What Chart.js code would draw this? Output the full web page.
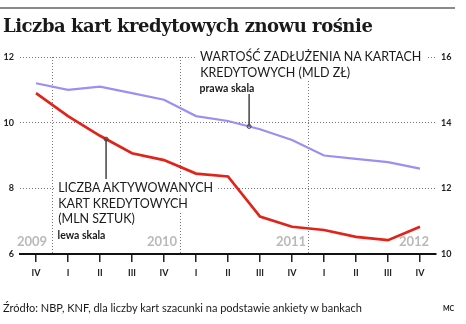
<!DOCTYPE html>
<html>
<head>
<meta charset="utf-8">
<script src="https://cdn.jsdelivr.net/npm/chart.js@4/dist/chart.umd.min.js"></script>
<style>
    body { margin: 0; background: #fff; }
    #wrap { position: relative; width: 466px; height: 324px; overflow: hidden; font-family: Lato, "Open Sans", sans-serif; color: #1a1a1a; }
    #chart { position: absolute; left: 0; top: 0; }
    .topline { position: absolute; left: 0; top: 7px; width: 455px; height: 2px; background: #8a8a8a; }
    .title { position: absolute; left: 3px; top: 15px; font-family: "DejaVu Serif", serif; font-weight: bold; font-size: 18px; letter-spacing: -0.45px; }
    .note { position: absolute; font-size: 12.5px; line-height: 15.5px; }
    .note span { background: #fff; padding-right: 2px; }
    .note .small { font-size: 10.5px; font-weight: bold; line-height: 13px; }
    .year { position: absolute; top: 233px; font-size: 13px; font-weight: bold; color: #b9b9b9; }
    .source { position: absolute; left: 3px; top: 301px; font-size: 11px; }
    .mc { position: absolute; left: 443px; top: 304px; font-size: 7px; font-weight: bold; }
</style>
</head>
<body>
<div id="wrap">
    <canvas id="chart" width="466" height="324"></canvas>
    <div class="topline"></div>
    <div class="title">Liczba kart kredytowych znowu rośnie</div>
    <div class="note" style="left:197px; top:49px;">
        <span>&nbsp;WARTOŚĆ ZADŁUŻENIA NA KARTACH&nbsp;</span><br>
        <span>&nbsp;KREDYTOWYCH (MLD ZŁ)</span><br>
        <span class="small">&nbsp;prawa skala</span>
    </div>
    <div class="note" style="left:55px; top:180px;">
        <span>&nbsp;LICZBA AKTYWOWANYCH&nbsp;</span><br>
        <span>&nbsp;KART KREDYTOWYCH</span><br>
        <span>&nbsp;(MLN SZTUK)</span><br>
        <span class="small">&nbsp;lewa skala</span>
    </div>
    <div class="year" style="left:17px;">2009</div>
    <div class="year" style="left:147px;">2010</div>
    <div class="year" style="left:276px;">2011</div>
    <div class="year" style="left:399px;">2012</div>
    <div class="source">Źródło: NBP, KNF, dla liczby kart szacunki na podstawie ankiety w bankach</div>
    <div class="mc">MC</div>
</div>
<script>
// kwartały IV 2008 - IV 2012
const quarters = ['IV', 'I', 'II', 'III', 'IV', 'I', 'II', 'III', 'IV', 'I', 'II', 'III', 'IV'];
// liczba aktywowanych kart (mln sztuk), lewa skala
const cards = [10.9, 10.2, 9.6, 9.07, 8.86, 8.45, 8.36, 7.14, 6.83, 6.73, 6.52, 6.42, 6.83];
// zadłużenie na kartach (mld zł), prawa skala
const debt = [15.2, 15.0, 15.1, 14.9, 14.7, 14.2, 14.05, 13.8, 13.47, 13.0, 12.9, 12.8, 12.6];
const leftTicks = [6, 8, 10, 12];
const rightTicks = [10, 12, 14, 16];
// separator lat po tych indeksach (IV kwartał)
const yearEnds = [0, 4, 8];

function pointAt(chart, dsIndex, pos) {
    let meta = chart.getDatasetMeta(dsIndex);
    let i = Math.floor(pos), f = pos - i;
    let a = meta.data[i], b = meta.data[i + 1];
    return { x: a.x + (b.x - a.x) * f, y: a.y + (b.y - a.y) * f };
}

const decor = {
    id: 'decor',
    beforeDatasetsDraw(chart) {
        let ctx = chart.ctx, x = chart.scales.x, area = chart.chartArea;
        ctx.save();
        ctx.strokeStyle = '#777';
        ctx.lineWidth = 1;
        ctx.setLineDash([1, 2]);
        yearEnds.forEach(function (i) {
            let px = Math.round((x.getPixelForValue(i) + x.getPixelForValue(i + 1)) / 2) + 0.5;
            ctx.beginPath();
            ctx.moveTo(px, area.top);
            ctx.lineTo(px, area.bottom);
            ctx.stroke();
        });
        ctx.restore();
    },
    afterDatasetsDraw(chart) {
        let ctx = chart.ctx;
        let red = pointAt(chart, 0, 2.19);
        let blue = pointAt(chart, 1, 6.66);
        ctx.save();
        ctx.strokeStyle = '#444';
        ctx.lineWidth = 1.5;
        ctx.beginPath();
        ctx.moveTo(red.x, red.y);
        ctx.lineTo(red.x, 179);
        ctx.moveTo(blue.x, blue.y);
        ctx.lineTo(blue.x, 93);
        ctx.stroke();
        ctx.lineWidth = 1;
        [red, blue].forEach(function (p) {
            ctx.beginPath();
            ctx.arc(p.x, p.y, 2, 0, Math.PI * 2);
            ctx.stroke();
        });
        ctx.restore();
    }
};

let tickFont = { family: 'Lato, "Open Sans", sans-serif', size: 9, weight: 'bold' };

new Chart(document.getElementById('chart').getContext('2d'), {
    type: 'line',
    data: {
        labels: quarters,
        datasets: [{
            data: cards,
            yAxisID: 'y',
            borderColor: '#e2231a',
            borderWidth: 2.7,
            pointRadius: 0,
            tension: 0
        }, {
            data: debt,
            yAxisID: 'y1',
            borderColor: '#9a90f2',
            borderWidth: 2.2,
            pointRadius: 0,
            tension: 0
        }]
    },
    options: {
        responsive: false,
        animation: false,
        layout: { padding: { top: 57, left: 0, right: 0, bottom: 0 } },
        plugins: { legend: { display: false }, tooltip: { enabled: false } },
        scales: {
            x: {
                offset: true,
                grid: { offset: false, drawOnChartArea: false, drawTicks: true, tickLength: 8, color: '#222', lineWidth: 1.5 },
                border: { color: '#111', width: 2 },
                ticks: { font: tickFont, color: '#222', padding: 6, maxRotation: 0, autoSkip: false },
                afterFit: function (s) { s.height = 70; }
            },
            y: {
                position: 'left',
                min: 6,
                max: 12,
                afterBuildTicks: function (s) { s.ticks = leftTicks.map(v => ({ value: v })); },
                grid: { color: '#777', lineWidth: 1, drawTicks: false },
                border: { display: false, dash: [1, 2] },
                ticks: { font: tickFont, color: '#222', padding: 6 },
                afterFit: function (s) { s.width = 20; }
            },
            y1: {
                position: 'right',
                min: 10,
                max: 16,
                afterBuildTicks: function (s) { s.ticks = rightTicks.map(v => ({ value: v })); },
                grid: { display: false, drawTicks: false },
                border: { display: false },
                ticks: { font: tickFont, color: '#222', padding: 5 },
                afterFit: function (s) { s.width = 30; }
            }
        }
    },
    plugins: [decor]
});
</script>
</body>
</html>
